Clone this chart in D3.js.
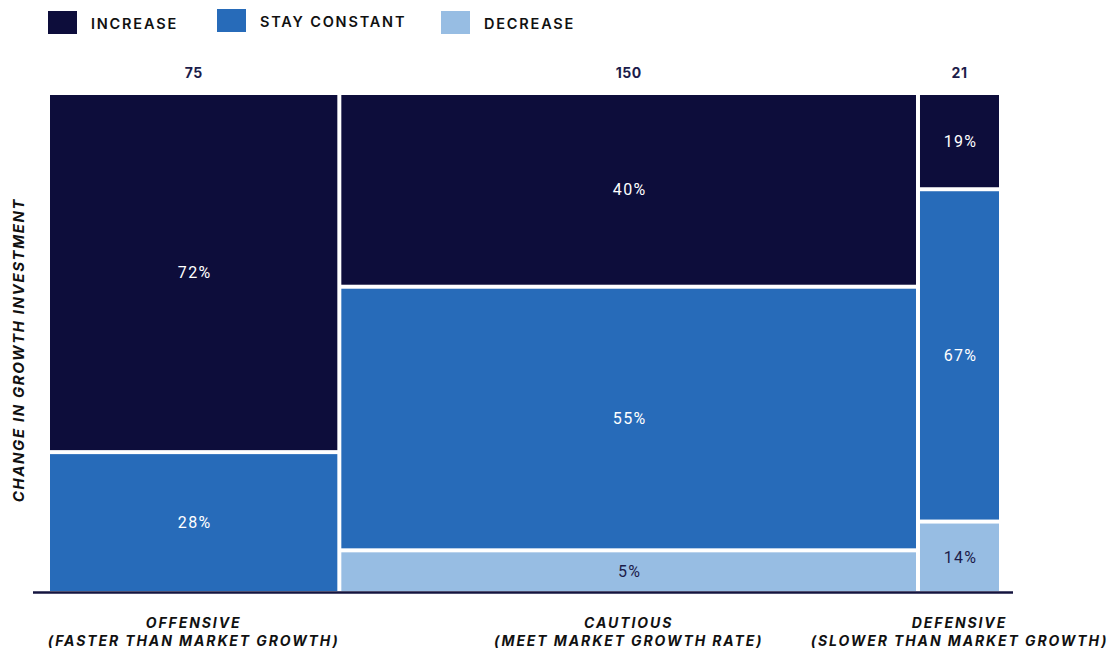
<!DOCTYPE html>
<html>
<head>
<meta charset="utf-8">
<script src="https://cdn.jsdelivr.net/npm/d3@7"></script>
<style>
  html, body { margin: 0; padding: 0; background: #ffffff; }
  svg { display: block; }
</style>
</head>
<body>
<svg id="chart" width="1112" height="648"></svg>
<script>
// ---- Data ----
const categories = ["OFFENSIVE", "CAUTIOUS", "DEFENSIVE"];
const subtitles = ["(FASTER THAN MARKET GROWTH)", "(MEET MARKET GROWTH RATE)", "(SLOWER THAN MARKET GROWTH)"];
const counts = [75, 150, 21];
const seriesNames = ["INCREASE", "STAY CONSTANT", "DECREASE"];
const increase = [72, 40, 19];
const stayConstant = [28, 55, 67];
const decrease = [0, 5, 14];
const yTitle = "CHANGE IN GROWTH INVESTMENT";

(function () {
// ---- Style ----
const colors = ["#0d0d3b", "#276bb9", "#97bde3"];
const labelColors = ["#ffffff", "#ffffff", "#1c1c4a"];
const minShare = 8.2; // minimum visible share for very small segments

const svg = d3.select("#chart");
const mLeft = 50, mRight = 999, mTop = 95, mBottom = 591;
const gap = 2;

const total = d3.sum(counts);
const cum = [0, ...d3.cumsum(counts)];
const x = d3.scaleLinear().domain([0, total]).range([mLeft, mRight]);
const y = d3.scaleLinear().domain([0, 100]).range([mTop, mBottom]);

const series = [increase, stayConstant, decrease];
const boldFont = "Inter, Roboto, sans-serif";

categories.forEach((cat, i) => {
  const x0 = x(cum[i]) + (i > 0 ? gap : 0);
  const x1 = x(cum[i + 1]) - (i < categories.length - 1 ? gap : 0);
  const cx = (x0 + x1) / 2;
  const raw = series.map(s => s[i]);
  const present = raw.map(v => v > 0);
  const small = raw.map(v => v > 0 && v < minShare);
  const smallSum = d3.sum(raw.map((v, k) => small[k] ? minShare : 0));
  const bigSum = d3.sum(raw.map((v, k) => (present[k] && !small[k]) ? v : 0));
  const disp = raw.map((v, k) => !present[k] ? 0 : small[k] ? minShare : v * (100 - smallSum) / bigSum);
  const segs = raw.map((v, k) => ({k, v, d: disp[k]})).filter(s => s.v > 0);
  let acc = 0;
  segs.forEach((s, j) => {
    const a = acc, b = acc + s.d;
    acc = b;
    const y0 = y(a) + (j > 0 ? gap : 0);
    const y1 = y(b) - (j < segs.length - 1 ? gap : 0);
    svg.append("rect")
      .attr("x", x0).attr("y", y0)
      .attr("width", x1 - x0).attr("height", y1 - y0)
      .attr("fill", colors[s.k]);
    svg.append("text")
      .attr("x", cx + 1).attr("y", (y0 + y1) / 2)
      .attr("text-anchor", "middle")
      .attr("dominant-baseline", "central")
      .attr("font-family", "Roboto, 'Noto Sans', sans-serif")
      .attr("font-size", 16)
      .attr("font-weight", 400)
      .attr("letter-spacing", "1.3px")
      .attr("fill", labelColors[s.k])
      .text(s.v + "%");
  });
  svg.append("text")
    .attr("x", cx).attr("y", 72)
    .attr("text-anchor", "middle")
    .attr("dominant-baseline", "central")
    .attr("font-family", boldFont)
    .attr("font-size", 14)
    .attr("font-weight", 700)
    .attr("letter-spacing", "0.5px")
    .attr("fill", "#1c1c4a")
    .text(counts[i]);
  [cat, subtitles[i]].forEach((t, r) => {
    svg.append("text")
      .attr("x", cx).attr("y", 622 + r * 18)
      .attr("text-anchor", "middle")
      .attr("dominant-baseline", "central")
      .attr("font-family", boldFont)
      .attr("font-size", 14)
      .attr("font-weight", 700)
      .attr("font-style", "italic")
      .attr("letter-spacing", "1.9px")
      .attr("fill", "#111111")
      .text(t);
  });
});

svg.append("line")
  .attr("x1", 33).attr("x2", 1013)
  .attr("y1", y(100) + 1.5).attr("y2", y(100) + 1.5)
  .attr("stroke", "#14143f").attr("stroke-width", 2.5);

svg.append("text")
  .attr("transform", "translate(18,350) rotate(-90)")
  .attr("text-anchor", "middle")
  .attr("dominant-baseline", "central")
  .attr("font-family", boldFont)
  .attr("font-size", 15)
  .attr("font-weight", 700)
  .attr("font-style", "italic")
  .attr("letter-spacing", "1.6px")
  .attr("fill", "#111111")
  .text(yTitle);

const legendX = [48, 217, 441];
const legendY = [11, 9, 11];
seriesNames.forEach((name, k) => {
  svg.append("rect")
    .attr("x", legendX[k]).attr("y", legendY[k])
    .attr("width", 29).attr("height", 23)
    .attr("fill", colors[k]);
  svg.append("text")
    .attr("x", legendX[k] + 43).attr("y", legendY[k] + 12)
    .attr("dominant-baseline", "central")
    .attr("font-family", boldFont)
    .attr("font-size", 14.5)
    .attr("font-weight", 600)
    .attr("letter-spacing", "1.8px")
    .attr("fill", "#111111")
    .text(name);
});
})();
</script>
</body>
</html>
